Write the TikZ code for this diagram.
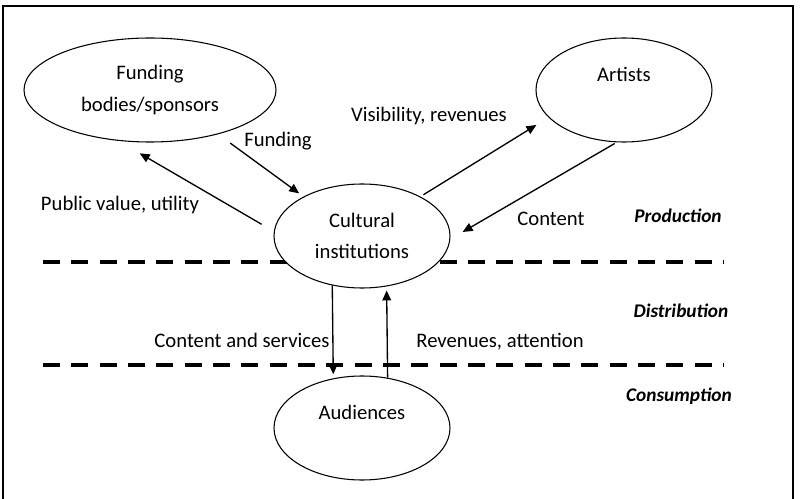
\documentclass[tikz,border=0pt]{standalone}
\usepackage{fontspec}
\setmainfont{Carlito}
\usepackage{tikz}
\usetikzlibrary{arrows.meta,shapes.geometric}
\newcommand{\arw}{-{Triangle[length=7.5pt,width=6.5pt]}}

\begin{document}
\begin{tikzpicture}[x=.75pt,y=-.75pt,
  bubble/.style={ellipse,draw,fill=white,line width=.8pt,inner sep=0pt,
    minimum width=132pt,minimum height=78pt,align=center,
    font=\fontsize{15.5}{23.5}\selectfont},
  lbl/.style={anchor=base,inner sep=0pt,font=\fontsize{15.5}{18}\selectfont},
  stage/.style={anchor=base,inner sep=0pt,font=\fontsize{14.5}{17}\selectfont\bfseries\itshape},
  level/.style={line width=2.6pt,dash pattern=on 12.75pt off 8.5pt}]
\useasboundingbox (0,0) rectangle (800,499);
\draw[line width=2pt] (3,499) -- (3,6) -- (793,6) -- (793,499);
%stage borders
\draw[level] (43,262) -- (724,262);
\draw[level] (43,365) -- (724,365);
%actors
\node[bubble,minimum width=189pt] (fund) at (150,90) {Funding\\bodies/sponsors};
\node[bubble] (art) at (624,90) {Artists\\\mbox{}};
\node[bubble] (cult) at (362,236) {Cultural\\institutions};
\node[bubble] (aud) at (362,428) {Audiences\\\mbox{}};
%flows
\draw[\arw,line width=1pt,shorten <=10.6pt,shorten >=18.6pt] (cult.177.5) -- (fund.238.1);
\draw[\arw,line width=1pt,shorten <=11.2pt,shorten >=4pt] (fund.-33.9) -- (cult.146.5);
\draw[\arw,line width=1pt,shorten <=2.6pt,shorten >=10.7pt] (cult.34.1) -- (art.200.2);
\draw[\arw,line width=1pt,shorten <=1.7pt,shorten >=10.6pt] (art.262.3) -- (cult.-2);
\draw[\arw,line width=1pt,shorten >=3pt] (cult.239.4) -- (aud.120.6);
\draw[\arw,line width=1pt,shorten >=3pt] (aud.63.4) -- (cult.296.6);
\node[lbl] (pvlbl) at (120,211) {Public value, utility};
\node[lbl] (fundlbl) at (278,147) {Funding};
\node[lbl] (vislbl) at (429,122) {Visibility, revenues};
\node[lbl] (contlbl) at (551,225) {Content};
\node[lbl] (servlbl) at (242,347) {Content and services};
\node[lbl] (revlbl) at (500,347) {Revenues, attention};
\node[stage] (prod) at (678,223) {Production};
\node[stage] (dist) at (681,317) {Distribution};
\node[stage] (cons) at (679,401) {Consumption};
\end{tikzpicture}
\end{document}
